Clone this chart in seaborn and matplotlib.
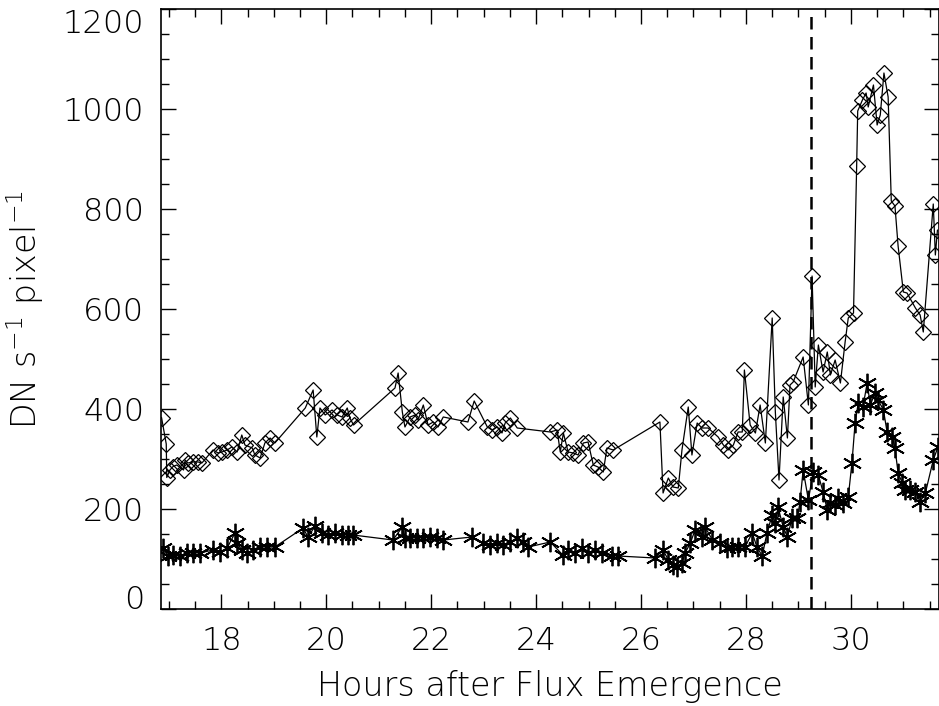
import numpy as np
import pandas as pd
import matplotlib
matplotlib.use("Agg")
import matplotlib.pyplot as plt
from matplotlib.ticker import MultipleLocator
from matplotlib import font_manager
import seaborn as sns

# Upper series (diamonds)
hours_d = [16.86, 16.95, 16.96, 17.02, 17.08, 17.15, 17.28, 17.31, 17.36, 17.46, 17.56, 17.63,
           17.84, 17.94, 18.01, 18.11, 18.20, 18.30, 18.39, 18.45, 18.59, 18.64, 18.74, 18.83,
           18.93, 19.02, 19.60, 19.75, 19.82, 19.88, 19.98, 20.11, 20.21, 20.30, 20.40, 20.45,
           20.52, 21.31, 21.37, 21.45, 21.50, 21.60, 21.69, 21.75, 21.85, 21.94, 22.04, 22.13,
           22.23, 22.70, 22.82, 23.07, 23.16, 23.26, 23.35, 23.41, 23.51, 23.64, 24.27, 24.40,
           24.46, 24.52, 24.61, 24.71, 24.80, 24.90, 24.99, 25.09, 25.18, 25.28, 25.35, 25.47,
           26.36, 26.42, 26.52, 26.61, 26.71, 26.78, 26.90, 26.97, 27.07, 27.16, 27.28, 27.47,
           27.57, 27.66, 27.76, 27.85, 27.93, 27.97, 28.08, 28.18, 28.27, 28.37, 28.50, 28.56,
           28.63, 28.71, 28.79, 28.84, 28.90, 29.09, 29.19, 29.26, 29.32, 29.38, 29.47, 29.55,
           29.61, 29.70, 29.80, 29.89, 29.95, 30.05, 30.11, 30.13, 30.22, 30.29, 30.33, 30.43,
           30.50, 30.56, 30.63, 30.71, 30.77, 30.84, 30.90, 31.00, 31.07, 31.23, 31.32, 31.38,
           31.57, 31.61, 31.65]
counts_d = [383, 330, 263, 278, 285, 288, 278, 298, 292, 294, 294, 292,
            318, 312, 314, 318, 324, 314, 348, 328, 322, 308, 302, 332,
            342, 332, 402, 438, 344, 402, 388, 398, 388, 384, 402, 382,
            368, 442, 472, 394, 364, 384, 388, 378, 408, 368, 374, 364,
            384, 374, 416, 364, 358, 364, 352, 372, 382, 362, 354, 358,
            314, 352, 314, 312, 308, 332, 334, 288, 284, 274, 322, 318,
            374, 232, 262, 244, 242, 318, 404, 308, 372, 362, 362, 344,
            328, 318, 328, 354, 354, 478, 368, 352, 408, 332, 582, 394,
            258, 424, 342, 448, 454, 504, 408, 666, 444, 528, 474, 514,
            468, 498, 452, 534, 582, 592, 886, 996, 1018, 1032, 1004, 1048,
            968, 988, 1072, 1024, 816, 806, 726, 634, 632, 602, 588, 554,
            810, 708, 758]

# Lower series (asterisks)
hours_s = [16.89, 16.98, 17.08, 17.21, 17.35, 17.46, 17.59, 17.84, 17.97, 18.11, 18.26, 18.30,
           18.39, 18.49, 18.60, 18.74, 18.87, 19.02, 19.56, 19.65, 19.79, 19.92, 20.03, 20.17,
           20.30, 20.42, 20.51, 21.27, 21.45, 21.50, 21.60, 21.73, 21.85, 21.98, 22.11, 22.23,
           22.78, 22.99, 23.12, 23.26, 23.37, 23.50, 23.64, 23.75, 23.85, 24.27, 24.51, 24.61,
           24.74, 24.88, 24.99, 25.12, 25.26, 25.45, 25.56, 26.27, 26.42, 26.52, 26.61, 26.69,
           26.78, 26.84, 26.94, 27.03, 27.16, 27.22, 27.36, 27.51, 27.64, 27.74, 27.85, 27.98,
           28.12, 28.21, 28.31, 28.40, 28.50, 28.56, 28.61, 28.71, 28.79, 28.88, 28.98, 29.03,
           29.09, 29.19, 29.28, 29.38, 29.47, 29.55, 29.61, 29.70, 29.76, 29.85, 29.95, 30.02,
           30.08, 30.14, 30.23, 30.31, 30.37, 30.46, 30.52, 30.62, 30.69, 30.79, 30.84, 30.90,
           30.98, 31.04, 31.13, 31.23, 31.32, 31.42, 31.57, 31.66]
counts_s = [122, 106, 108, 106, 112, 112, 112, 118, 114, 122, 152, 132,
            118, 112, 118, 124, 124, 124, 162, 144, 166, 152, 148, 152,
            148, 148, 148, 138, 164, 142, 142, 142, 142, 144, 142, 138,
            144, 132, 128, 132, 128, 134, 142, 134, 124, 134, 108, 118,
            112, 122, 112, 118, 112, 106, 106, 102, 118, 98, 88, 84,
            92, 112, 132, 158, 144, 164, 138, 132, 122, 124, 124, 124,
            152, 124, 106, 152, 188, 172, 204, 164, 144, 182, 182, 214,
            278, 218, 274, 268, 234, 198, 212, 208, 222, 212, 224, 292,
            372, 412, 404, 452, 408, 432, 418, 398, 354, 344, 322, 272,
            252, 238, 238, 234, 214, 232, 298, 324]

event_hour = 29.24
xticks = [18, 20, 22, 24, 26, 28, 30]
yticks = [0, 200, 400, 600, 800, 1000, 1200]

sns.set_theme(style="ticks")

# pick a thin-stroke face if one is installed
fam, wt = "DejaVu Sans", "normal"
light = {}
for f in font_manager.fontManager.ttflist:
    w = f.weight if isinstance(f.weight, int) else 400
    if w <= 300:
        light.setdefault(f.name, w)
for cand in ["DejaVu Sans", "Open Sans", "Lato", "Roboto", "Inter", "Noto Sans"]:
    if cand in light:
        fam, wt = cand, light[cand]
        break

plt.rcParams['font.family'] = [fam, 'DejaVu Sans']
plt.rcParams['font.weight'] = wt
plt.rcParams['axes.labelweight'] = wt
plt.rcParams['text.color'] = 'black'
plt.rcParams['axes.labelcolor'] = 'black'
plt.rcParams['xtick.color'] = 'black'
plt.rcParams['ytick.color'] = 'black'
plt.rcParams['mathtext.default'] = 'regular'

df_d = pd.DataFrame({"hours": hours_d, "counts": counts_d})
df_s = pd.DataFrame({"hours": hours_s, "counts": counts_s})

fig = plt.figure(figsize=(9.39, 7.06), dpi=100)
ax = fig.add_axes([161 / 939, 1 - 609 / 706, (938.5 - 161) / 939, 600 / 706])

sns.lineplot(data=df_d, x="hours", y="counts", ax=ax, color="black", lw=0.9,
             estimator=None, sort=False, marker="D", markersize=8,
             markerfacecolor="none", markeredgecolor="black", markeredgewidth=0.9)
sns.lineplot(data=df_s, x="hours", y="counts", ax=ax, color="black", lw=0.9,
             estimator=None, sort=False, marker=(6, 2, 0), markersize=14,
             markeredgecolor="black", markeredgewidth=1.3)

ax.axvline(event_hour, color="black", lw=1.8, ls=(0, (5, 3)))

ax.set_xlim(16.85, 31.67)
ax.set_ylim(0, 1200)
ax.set_xticks(xticks)
ax.set_yticks(yticks)
ax.xaxis.set_minor_locator(MultipleLocator(0.5))
ax.yaxis.set_minor_locator(MultipleLocator(50))

for s in ax.spines.values():
    s.set_visible(True)
    s.set_linewidth(1.2)
    s.set_color("black")

ax.tick_params(which="both", direction="in", top=True, right=True, color="black", width=1.0)
ax.tick_params(which="major", length=11, labelsize=23, pad=12)
ax.tick_params(which="minor", length=5.5)
ax.tick_params(axis="x", which="major", pad=12)

fig.canvas.draw()
ylabs = ax.get_yticklabels()
ylabs[0].set_verticalalignment("baseline")
ylabs[-1].set_verticalalignment("top")

ax.set_xlabel("Hours after Flux Emergence", fontsize=24, fontweight=wt, labelpad=10)
ax.set_ylabel(r"DN s$^{-1}$ pixel$^{-1}$", fontsize=24, fontweight=wt, labelpad=12)

fig.savefig("out.png", dpi=100)
